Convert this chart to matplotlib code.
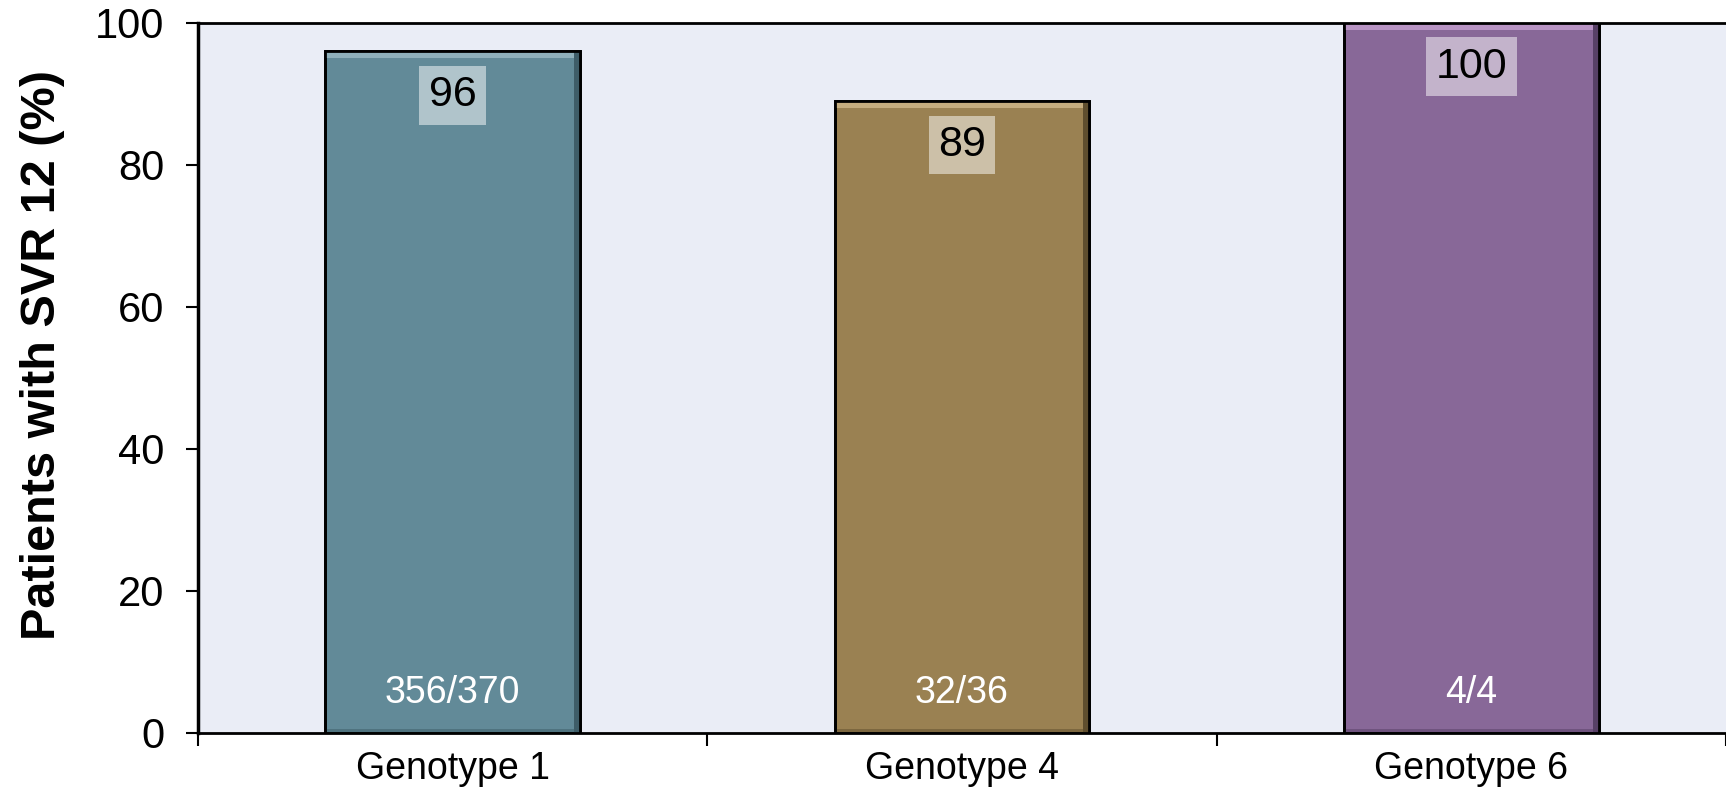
import matplotlib
matplotlib.use('Agg')
import matplotlib.pyplot as plt
from matplotlib.patches import Rectangle

genotypes = ['Genotype 1', 'Genotype 4', 'Genotype 6']
svr = [96, 89, 100]
fractions = ['356/370', '32/36', '4/4']
colors = ['#628a98', '#9a8152', '#886898']
light = ['#8fb0bb', '#c5ad7f', '#b894c4']
dark = ['#3e5d68', '#5f4e2e', '#574066']

plt.rcParams['font.family'] = ['Liberation Sans', 'DejaVu Sans']

fig = plt.figure(figsize=(17.26, 7.89), dpi=100)
ax = fig.add_axes([0.1147, 0.071, 0.8853, 0.9])
ax.set_facecolor('#eaedf6')

x = list(range(len(genotypes)))
bars = ax.bar(x, svr, width=0.5, color=colors, edgecolor='black', linewidth=2, zorder=2)

for b, v, fr, lc, dc in zip(bars, svr, fractions, light, dark):
    bx, bw, bh = b.get_x(), b.get_width(), b.get_height()
    # bevel: lighter top strip, darker right and bottom edges
    ax.add_patch(Rectangle((bx, bh - 1.0), bw, 1.0, color=lc, zorder=3, lw=0))
    ax.add_patch(Rectangle((bx + bw - 0.012, 0), 0.012, bh, color=dc, zorder=3, lw=0))
    ax.add_patch(Rectangle((bx, 0), bw, 0.6, color=dc, alpha=0.5, zorder=3, lw=0))
    ax.add_patch(Rectangle((bx, 0), bw, bh, fill=False, edgecolor='black', lw=2, zorder=4))
    ax.text(bx + bw / 2, bh - 6.2, str(v), ha='center', va='center', fontsize=31,
            color='black', zorder=5,
            bbox=dict(boxstyle='square,pad=0.22', facecolor='white', alpha=0.5, edgecolor='none'))
    ax.text(bx + bw / 2, 5.6, fr, ha='center', va='center', fontsize=27, color='white', zorder=5)

ax.set_xlim(-0.5, 2.5)
ax.set_ylim(0, 100)
ax.set_yticks([0, 20, 40, 60, 80, 100])
ax.tick_params(axis='y', labelsize=30, length=9, width=1.5, direction='out', pad=15)

ax.set_xticks([-0.5, 0.5, 1.5, 2.5])
ax.set_xticklabels([])
ax.set_xticks(x, minor=True)
ax.set_xticklabels(genotypes, minor=True)
ax.tick_params(axis='x', which='major', length=9, width=1.5, direction='out')
ax.tick_params(axis='x', which='minor', length=0, labelsize=27, pad=13)

ax.spines['right'].set_visible(False)
ax.spines['left'].set_linewidth(2.5)
ax.spines['bottom'].set_linewidth(2)
ax.spines['top'].set_linewidth(2)

ax.set_ylabel('Patients with SVR 12 (%)', fontsize=35, fontweight='bold')
ax.yaxis.set_label_coords(-0.087, 0.532)

fig.savefig('out.png', dpi=100)
